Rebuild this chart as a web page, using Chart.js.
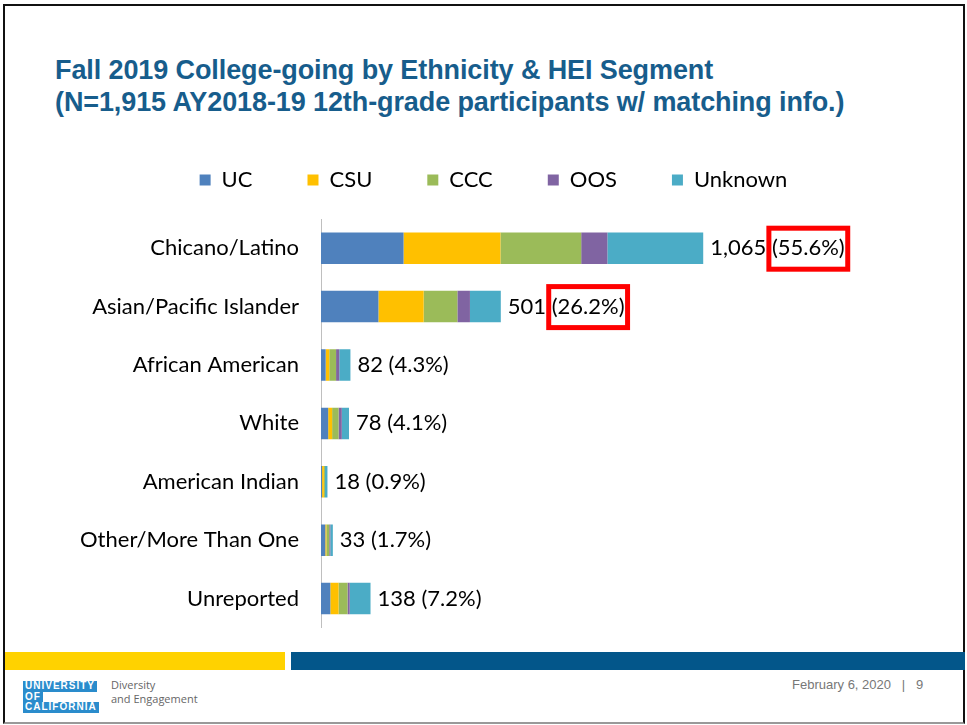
<!DOCTYPE html>
<html>
<head>
<meta charset="utf-8">
<script src="https://cdn.jsdelivr.net/npm/chart.js@4.4.1/dist/chart.umd.min.js"></script>
<style>
  html, body { margin: 0; padding: 0; background: #fff; }
  body { width: 967px; height: 725px; position: relative; overflow: hidden; font-family: "Liberation Sans", Arial, sans-serif; }
  .frame { position: absolute; left: 3px; top: 4px; width: 958px; height: 716px; border: 2px solid #111; border-bottom-color: #999; }
  .title { position: absolute; left: 55px; top: 54px; color: #175d8c; font-weight: bold; font-size: 27px; line-height: 32px; letter-spacing: -0.1px; white-space: nowrap; }
  #wrap { position: absolute; left: 0; top: 114px; }
  .bar-y { position: absolute; left: 5px; top: 652px; width: 280px; height: 18px; background: #ffd200; }
  .bar-b { position: absolute; left: 291px; top: 652px; width: 674px; height: 18px; background: #03568a; }
  .logo { position: absolute; left: 23px; top: 681px; font: bold 10px "Liberation Sans", Arial, sans-serif; color: #fff; line-height: 10.7px; letter-spacing: 1px; }
  .logo span { display: inline-block; background: #2a8ccc; padding: 0 2px; }
  .dept { position: absolute; left: 111px; top: 678px; font: 11px "Open Sans", sans-serif; color: #666; line-height: 14px; }
  .date { position: absolute; left: 792px; top: 677px; font: 13px "Liberation Sans", Arial, sans-serif; color: #777; white-space: pre; }
</style>
</head>
<body>
<div class="frame"></div>
<div class="title">Fall 2019 College-going by Ethnicity &amp; HEI Segment<br>(N=1,915 AY2018-19 12th-grade participants w/ matching info.)</div>
<div id="wrap"><canvas id="grafico" width="967" height="549"></canvas></div>
<div class="bar-y"></div>
<div class="bar-b"></div>
<div class="logo"><span>UNIVERSITY</span><br><span>OF</span><br><span>CALIFORNIA</span></div>
<div class="dept">Diversity<br>and Engagement</div>
<div class="date">February 6, 2020   |   9</div>
<script>
// ---------------- datos ----------------
const categorias = ["Chicano/Latino", "Asian/Pacific Islander", "African American", "White",
  "American Indian", "Other/More Than One", "Unreported"];
const segmentos = ["UC", "CSU", "CCC", "OOS", "Unknown"];
const colores = ["#4f81bd", "#ffc000", "#9bbb59", "#8064a2", "#4bacc6"];

const valoresUC = [230, 160, 13, 20, 3, 12, 26];
const valoresCSU = [270, 126, 10, 11, 5, 3, 23];
const valoresCCC = [225, 94, 19, 18, 3, 8, 25];
const valoresOOS = [73, 35, 9, 9, 0, 3, 6];
const valoresUnknown = [267, 86, 31, 20, 7, 7, 58];

const totalN = 1915;
const marcados = [0, 1]; // filas con el porcentaje recuadrado en rojo

const series = [valoresUC, valoresCSU, valoresCCC, valoresOOS, valoresUnknown];
const fuente = "Lato, 'Open Sans', sans-serif";

// ---------------- plugins ----------------
// un poco mas de aire entre la leyenda y las barras, y leyenda algo a la derecha
const ajusteLeyenda = {
  id: "ajusteLeyenda",
  beforeInit(chart) {
    const fitOriginal = chart.legend.fit;
    chart.legend.fit = function () {
      fitOriginal.call(this);
      this.height += 18;
    };
  },
  afterLayout(chart) {
    chart.legend.left += 10;
    chart.legend.right += 10;
  },
};

// total y porcentaje al final de cada barra
const etiquetasPlugin = {
  id: "etiquetas",
  afterDatasetsDraw(chart) {
    const ctx = chart.ctx;
    const ultimo = chart.getDatasetMeta(series.length - 1);
    ctx.save();
    ctx.font = "22px " + fuente;
    ctx.fillStyle = "#000";
    ctx.textBaseline = "middle";
    categorias.forEach((c, i) => {
      const total = series.reduce((s, arr) => s + arr[i], 0);
      const bar = ultimo.data[i];
      const x = bar.x + 7;
      const y = bar.y;
      const num = total.toLocaleString("en-US") + " ";
      const pct = "(" + (total / totalN * 100).toFixed(1) + "%)";
      ctx.fillText(num, x, y);
      const xp = x + ctx.measureText(num).width;
      ctx.fillText(pct, xp, y);
      if (marcados.includes(i)) {
        const w = ctx.measureText(pct).width;
        ctx.strokeStyle = "#ff0000";
        ctx.lineWidth = 5;
        ctx.strokeRect(xp - 3, y - 20, w + 6, 41);
      }
    });
    ctx.restore();
  },
};

// ---------------- grafico ----------------
let grafica = new Chart(document.getElementById("grafico").getContext("2d"), {
  type: "bar",
  data: {
    labels: categorias,
    datasets: segmentos.map((s, k) => ({
      label: s,
      data: series[k],
      backgroundColor: colores[k],
      borderWidth: 0,
      categoryPercentage: 0.54,
      barPercentage: 1,
    })),
  },
  options: {
    indexAxis: "y",
    responsive: false,
    animation: false,
    layout: { padding: { left: 0, right: 0, top: 0, bottom: 9 } },
    plugins: {
      legend: {
        position: "top",
        labels: { font: { size: 22, family: fuente }, color: "#000", boxWidth: 11, boxHeight: 11, padding: 55 },
      },
      tooltip: { enabled: false },
    },
    scales: {
      x: { display: false, stacked: true, min: 0, max: 1800 },
      y: {
        stacked: true,
        grid: { color: "transparent", drawTicks: false },
        border: { display: true, color: "#bfbfbf", width: 1 },
        ticks: { font: { size: 22, family: fuente }, color: "#000", padding: 22 },
        afterFit(scale) { scale.width = 321; },
      },
    },
  },
  plugins: [ajusteLeyenda, etiquetasPlugin],
});
</script>
</body>
</html>
